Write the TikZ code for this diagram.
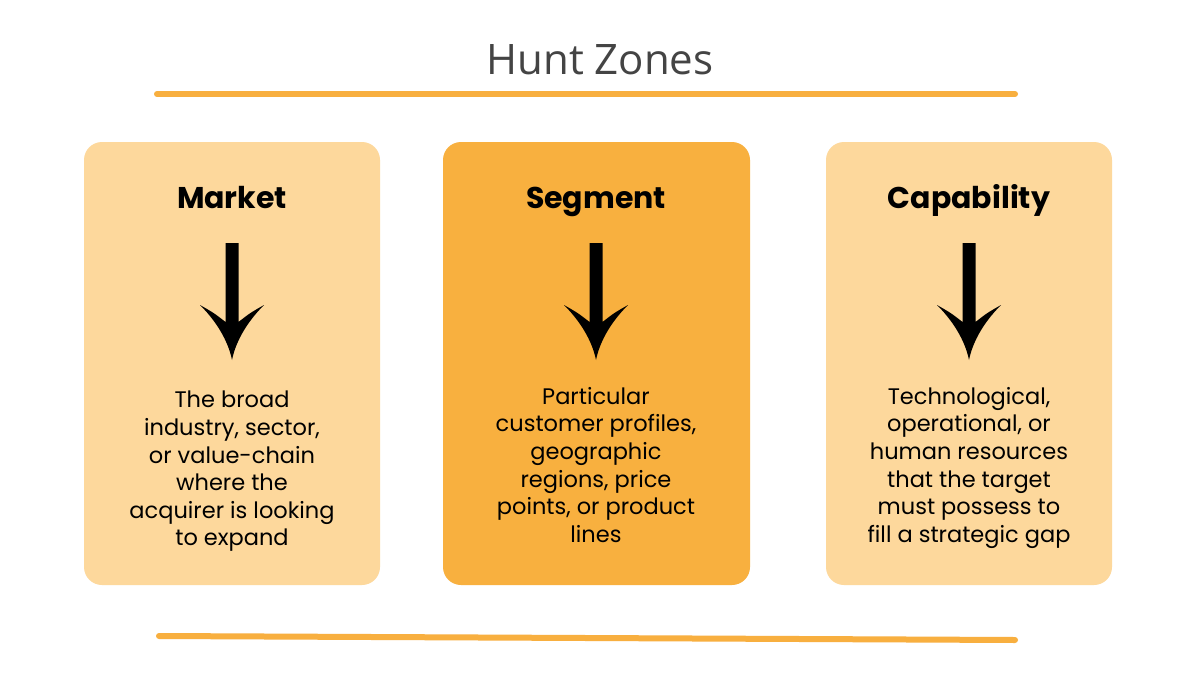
\documentclass[tikz,border=0pt]{standalone}
\usepackage{fontspec}
\setmainfont{Poppins}
\newfontfamily\titlefont{Open Sans}
\usetikzlibrary{calc}
\definecolor{lightbox}{HTML}{FDD89C}
\definecolor{darkbox}{HTML}{F8B03F}
\definecolor{rulecol}{HTML}{F8AF3F}
\definecolor{titlecol}{HTML}{444444}
\tikzset{
  card/.style={rounded corners=18pt, inner sep=0pt, draw=none},
  heading/.style={font=\fontsize{30}{36}\selectfont\bfseries, text=black, anchor=base},
  body/.style={font=\fontsize{22.5}{27.6}\selectfont, align=center, text=black, anchor=north, inner sep=0pt},
  hrule/.style={draw=rulecol, line width=6pt, line cap=round},
  pics/downarrow/.style={code={
    \fill[black] (-6.5,0) -- (6.5,0) -- (6.5,79)
      .. controls (18,70) .. (32,62)
      .. controls (12,82) and (3,102) .. (0,117)
      .. controls (-3,102) and (-12,82) .. (-32,62)
      .. controls (-18,70) .. (-6.5,79) -- cycle;
  }}
}
\begin{document}
\begin{tikzpicture}[x=1pt,y=-1pt]
\useasboundingbox (0,0) rectangle (1200,675);
\fill[white] (0,0) rectangle (1200,675);
\node[font=\titlefont\fontsize{42}{50}\selectfont, text=titlecol] (title) at (600,60) {Hunt Zones};
\coordinate (tl) at (157,94); \coordinate (tr) at (1015,94);
\draw[hrule] (tl) -- (tr);
\coordinate (bl) at (159,636); \coordinate (br) at (1015,640);
\draw[hrule] (bl) -- (br);
% cards
\fill[lightbox, card] (84,142) rectangle (380,585);
\fill[darkbox, card] (443,142) rectangle (750,585);
\fill[lightbox, card] (826,142) rectangle (1112,585);
\node[heading] (h1) at (232,208) {Market};
\node[heading] (h2) at (596,208) {Segment};
\node[heading] (h3) at (969,208) {Capability};
\coordinate (a1) at (232,243); \pic at (a1) {downarrow};
\coordinate (a2) at (596,243); \pic at (a2) {downarrow};
\coordinate (a3) at (969,243); \pic at (a3) {downarrow};
\node[body] (t1) at (232,391) {The broad\\industry, sector,\\or value-chain\\where the\\acquirer is looking\\to expand};
\node[body] (t2) at (596,387) {Particular\\customer profiles,\\geographic\\regions, price\\points, or product\\lines};
\node[body] (t3) at (969,387) {Technological,\\operational, or\\human resources\\that the target\\must possess to\\fill a strategic gap};
\end{tikzpicture}
\end{document}
